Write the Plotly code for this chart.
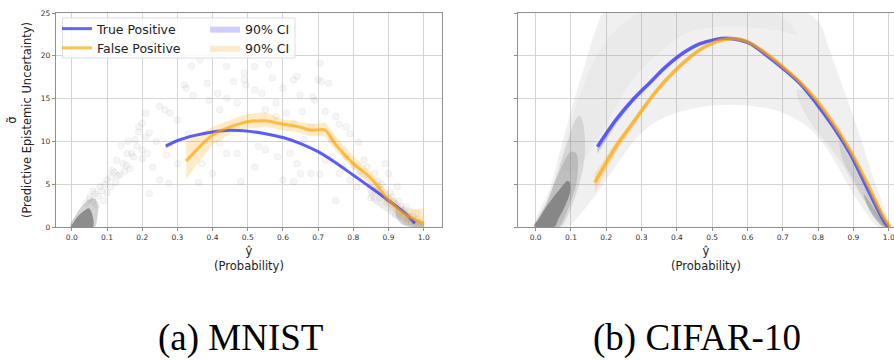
import plotly.graph_objects as go

# ---------------- MNIST (a) ----------------
mn_tp_x = [0.267, 0.30, 0.35, 0.40, 0.45, 0.50, 0.55, 0.60, 0.65, 0.70, 0.75, 0.80, 0.85, 0.90, 0.95, 0.975]
mn_tp_y = [9.45, 10.1, 10.7, 11.1, 11.3, 11.2, 10.9, 10.45, 9.75, 8.8, 7.5, 6.05, 4.6, 3.1, 1.5, 0.45]
mn_tp_lo = [9.2, 9.9, 10.55, 10.95, 11.15, 11.05, 10.75, 10.3, 9.6, 8.65, 7.35, 5.9, 4.45, 2.95, 1.35, 0.3]
mn_tp_hi = [9.7, 10.3, 10.85, 11.25, 11.45, 11.35, 11.05, 10.6, 9.9, 8.95, 7.65, 6.2, 4.75, 3.25, 1.65, 0.6]

mn_fp_x = [0.325, 0.35, 0.40, 0.45, 0.50, 0.55, 0.60, 0.62, 0.65, 0.68, 0.70, 0.72, 0.75, 0.80, 0.85, 0.90, 0.95, 1.00]
mn_fp_y = [7.7, 8.8, 10.75, 11.7, 12.3, 12.4, 12.0, 11.9, 11.65, 11.3, 11.35, 11.3, 9.6, 7.4, 5.7, 3.15, 1.4, 0.45]
mn_fp_lo = [5.6, 7.0, 9.6, 10.9, 11.5, 11.7, 11.3, 11.2, 10.95, 10.6, 10.7, 10.5, 8.9, 6.8, 5.0, 2.4, 0.6, 0.0]
mn_fp_hi = [10.0, 10.5, 11.7, 12.5, 13.2, 13.4, 12.6, 12.5, 12.3, 12.0, 12.1, 12.2, 10.6, 8.3, 6.4, 3.9, 2.0, 2.2]

mn_pts_x = [0.364, 0.34, 0.32, 0.325, 0.25, 0.265, 0.28, 0.39, 0.42, 0.46, 0.49, 0.495, 0.54, 0.55, 0.57,
            0.61, 0.63, 0.655, 0.69, 0.685, 0.70, 0.648, 0.75, 0.79, 0.815, 0.72, 0.74, 0.705, 0.76, 0.78,
            0.62, 0.64, 0.585, 0.55, 0.53, 0.47, 0.48, 0.44, 0.40, 0.37, 0.30, 0.27, 0.25, 0.275, 0.23,
            0.21, 0.20, 0.215, 0.19, 0.19, 0.21, 0.157, 0.175, 0.146, 0.127, 0.114, 0.137, 0.10, 0.08, 0.066,
            0.09, 0.052, 0.11, 0.125, 0.22, 0.83, 0.84, 0.86, 0.87, 0.89, 0.91, 0.92, 0.94, 0.75, 0.81,
            0.79, 0.89, 0.90, 0.925, 0.78, 0.74, 0.345, 0.385, 0.415, 0.44, 0.49, 0.52, 0.64, 0.705, 0.58,
            0.63, 0.68, 0.52, 0.60, 0.63, 0.68, 0.65, 0.36, 0.42, 0.33, 0.30, 0.47, 0.56, 0.40, 0.60,
            0.52, 0.44, 0.58, 0.66, 0.72, 0.76, 0.73, 0.71, 0.16, 0.14, 0.18, 0.20, 0.22, 0.24,
            0.04, 0.05, 0.06, 0.07, 0.06, 0.075, 0.085, 0.10, 0.095, 0.11, 0.12, 0.13, 0.15, 0.155, 0.165,
            0.17, 0.185, 0.20, 0.96, 0.97, 0.95, 0.93, 0.88, 0.85, 0.82, 0.80, 0.77,
            0.86, 0.875, 0.88, 0.895, 0.90, 0.91, 0.915, 0.93, 0.935, 0.94, 0.945, 0.955, 0.96, 0.965,
            0.97, 0.975, 0.98, 0.985, 0.99, 0.995, 0.85, 0.87, 0.905, 0.92, 0.95, 0.98, 0.83, 0.815]
mn_pts_y = [19.5, 18.8, 16.6, 16.2, 14.1, 13.7, 13.3, 14.8, 13.7, 17.0, 17.2, 16.6, 15.6, 13.7, 17.4,
            13.3, 17.2, 13.5, 14.8, 15.2, 17.2, 15.4, 12.9, 10.9, 9.9, 7.8, 8.2, 6.2, 6.25, 8.2,
            8.6, 7.4, 8.2, 9.0, 9.4, 8.6, 5.3, 8.6, 6.25, 7.4, 7.4, 8.4, 5.5, 5.1, 7.0,
            10.5, 9.0, 8.6, 11.1, 11.7, 13.3, 8.6, 8.2, 7.4, 7.8, 6.6, 6.1, 5.5, 4.7, 3.9,
            3.1, 3.5, 4.7, 5.2, 3.9, 7.8, 7.0, 6.25, 4.7, 3.9, 3.5, 2.7, 1.9, 3.1, 4.7,
            5.5, 7.4, 6.25, 4.7, 11.7, 10.2, 15.4, 16.8, 15.6, 18.75, 18.0, 18.75, 17.6, 19.1, 12.9,
            12.1, 11.7, 7.0, 5.5, 5.3, 6.25, 6.25, 5.2, 9.8, 10.9, 12.5, 14.5, 19.0, 20.5, 16.2,
            16.0, 15.0, 14.5, 10.2, 13.5, 12.0, 16.8, 17.0, 10.0, 9.5, 10.2, 12.1, 11.0, 10.0,
            2.8, 3.2, 3.0, 2.6, 4.2, 3.6, 4.2, 4.0, 5.0, 5.8, 6.4, 6.0, 6.5, 7.2, 6.8,
            8.6, 9.4, 8.0, 1.2, 0.8, 2.4, 3.0, 5.0, 5.2, 6.5, 7.2, 7.0,
            4.2, 3.4, 4.4, 2.8, 3.2, 2.2, 3.0, 1.6, 2.4, 1.2, 2.0, 1.0, 1.8, 0.6,
            1.2, 0.4, 0.9, 0.3, 0.6, 0.2, 3.4, 5.4, 4.0, 1.4, 0.5, 1.6, 5.6, 6.0]

# dense regions of the MNIST cloud (outlines)
mn_halo_x = [-0.004, 0.01, 0.03, 0.05, 0.065, 0.075, 0.072, 0.065, -0.004]
mn_halo_y = [0.0, 1.3, 2.5, 3.2, 3.3, 2.4, 1.0, 0.0, 0.0]
mn_blob_x = [-0.002, 0.006, 0.014, 0.026, 0.038, 0.048, 0.055, 0.06, 0.062, 0.06, -0.002]
mn_blob_y = [0.0, 0.6, 1.1, 1.6, 2.0, 2.2, 1.8, 1.1, 0.4, 0.0, 0.0]
mn_right_x = [0.84, 0.88, 0.92, 0.95, 0.98, 1.0, 1.0, 0.97, 0.93, 0.89, 0.85, 0.84]
mn_right_y = [5.2, 4.0, 2.8, 1.9, 1.0, 0.4, 0.0, 0.0, 0.8, 1.9, 3.2, 5.2]
mn_rdense_x = [0.92, 0.95, 0.98, 1.0, 1.0, 0.96, 0.93, 0.92]
mn_rdense_y = [2.2, 1.5, 0.8, 0.3, 0.0, 0.0, 0.6, 2.2]

# ---------------- CIFAR-10 (b) ----------------
cf_tp_x = [0.175, 0.227, 0.2745, 0.322, 0.369, 0.4166, 0.464, 0.511, 0.54, 0.578, 0.606, 0.653, 0.70,
           0.748, 0.795, 0.843, 0.89, 0.937, 0.985, 0.999]
cf_tp_y = [9.38, 12.5, 14.84, 16.8, 18.73, 20.29, 21.38, 21.92, 22.04, 21.85, 21.46, 20.09, 18.54,
           16.78, 14.45, 11.72, 8.6, 4.71, 0.82, 0.0]
cf_tp_lo = [8.6, 12.0, 14.5, 16.55, 18.5, 20.1, 21.2, 21.75, 21.88, 21.7, 21.3, 19.93, 18.38,
            16.62, 14.29, 11.56, 8.44, 4.55, 0.66, 0.0]
cf_tp_hi = [9.7, 12.8, 15.1, 17.0, 18.93, 20.47, 21.55, 22.08, 22.2, 22.0, 21.62, 20.25, 18.7,
            16.94, 14.61, 11.88, 8.76, 4.87, 0.98, 0.15]

cf_fp_x = [0.1675, 0.1988, 0.227, 0.2745, 0.322, 0.369, 0.4166, 0.464, 0.511, 0.549, 0.578, 0.606,
           0.653, 0.70, 0.748, 0.795, 0.843, 0.89, 0.937, 0.985, 1.004]
cf_fp_y = [5.18, 7.44, 9.38, 12.11, 14.84, 17.17, 19.12, 20.68, 21.65, 22.0, 21.93, 21.53,
           20.29, 18.73, 16.98, 14.84, 12.11, 9.0, 5.3, 1.21, 0.0]
cf_fp_lo = [4.0, 6.5, 8.7, 11.6, 14.45, 16.85, 18.85, 20.45, 21.45, 21.8, 21.73, 21.33,
            20.09, 18.53, 16.78, 14.64, 11.91, 8.8, 5.1, 1.0, 0.0]
cf_fp_hi = [6.2, 8.2, 9.9, 12.5, 15.15, 17.45, 19.35, 20.88, 21.85, 22.2, 22.13, 21.73,
            20.49, 18.93, 17.18, 15.04, 12.31, 9.2, 5.5, 1.45, 0.2]

# CIFAR point cloud, drawn as nested density layers (outlines)
cf_haze_x = [0.0, 0.04, 0.07, 0.09, 0.11, 0.14, 0.17, 0.20, 0.30, 0.45, 0.60, 0.72, 0.80, 0.83, 0.86, 0.89,
             0.92, 0.95, 0.98, 1.0, 0.97, 0.93, 0.89, 0.85, 0.81, 0.76, 0.69, 0.60, 0.50, 0.42, 0.35,
             0.30, 0.25, 0.20, 0.16, 0.12, 0.09, 0.0]
cf_haze_y = [0.0, 4.5, 9.0, 12.0, 15.0, 19.0, 23.0, 25.5, 26.0, 26.0, 26.0, 26.0, 24.0, 21.0, 17.5, 14.0,
             10.5, 6.5, 3.0, 0.0, 0.0, 2.0, 4.5, 7.5, 10.0, 12.0, 13.5, 14.2, 14.2, 13.6, 12.5,
             11.0, 8.5, 5.5, 3.2, 1.2, 0.0, 0.0]
cf_mid_x = [0.07, 0.09, 0.11, 0.14, 0.18, 0.24, 0.32, 0.42, 0.52, 0.62, 0.70, 0.74, 0.70, 0.60, 0.50,
            0.42, 0.34, 0.27, 0.22, 0.18, 0.14, 0.11, 0.07]
cf_mid_y = [7.0, 10.5, 13.5, 17.0, 20.5, 23.5, 25.5, 26.0, 26.0, 25.5, 24.5, 22.5, 22.8, 23.4, 23.3,
            22.5, 20.0, 17.0, 13.5, 10.5, 8.0, 6.5, 7.0]
cf_lobe_x = [0.0, 0.03, 0.055, 0.075, 0.095, 0.11, 0.125, 0.135, 0.14, 0.135, 0.12, 0.10, 0.085, 0.07, 0.0]
cf_lobe_y = [0.0, 2.5, 5.5, 8.0, 10.5, 12.3, 13.0, 12.0, 9.5, 7.0, 4.5, 2.2, 0.8, 0.0, 0.0]
cf_core_x = [0.0, 0.03, 0.055, 0.08, 0.10, 0.115, 0.12, 0.115, 0.10, 0.085, 0.065, 0.0]
cf_core_y = [0.0, 2.8, 5.3, 7.6, 8.8, 8.6, 7.0, 5.0, 3.0, 1.4, 0.0, 0.0]
cf_blob_x = [-0.004, 0.01, 0.024, 0.038, 0.052, 0.066, 0.08, 0.09, 0.097, 0.098, 0.09, 0.078, 0.065, 0.052, -0.004]
cf_blob_y = [0.1, 1.0, 2.0, 2.8, 3.6, 4.3, 5.0, 5.4, 5.2, 4.2, 3.1, 2.0, 1.0, 0.0, 0.1]
cf_right_x = [0.74, 0.78, 0.82, 0.86, 0.89, 0.92, 0.95, 0.98, 1.0, 0.985, 0.96, 0.93, 0.90, 0.87, 0.84,
              0.80, 0.76, 0.74]
cf_right_y = [16.0, 15.5, 13.5, 10.8, 8.5, 6.0, 3.5, 1.2, 0.0, 0.0, 1.2, 3.0, 5.0, 7.2, 9.0, 11.0, 13.5, 16.0]
cf_rdense_x = [0.86, 0.89, 0.92, 0.95, 0.975, 1.0, 0.99, 0.97, 0.95, 0.925, 0.90, 0.87, 0.86]
cf_rdense_y = [10.0, 8.0, 5.6, 3.4, 1.6, 0.0, 0.0, 0.8, 2.0, 3.6, 5.5, 7.8, 10.0]
cf_rcore_x = [0.93, 0.955, 0.975, 0.995, 1.0, 0.985, 0.965, 0.945, 0.93]
cf_rcore_y = [3.8, 2.4, 1.2, 0.2, 0.0, 0.0, 0.8, 2.0, 3.8]

x_ticks = [0.0, 0.1, 0.2, 0.3, 0.4, 0.5, 0.6, 0.7, 0.8, 0.9, 1.0]
x_tick_labels = ["0.0", "0.1", "0.2", "0.3", "0.4", "0.5", "0.6", "0.7", "0.8", "0.9", "1.0"]
y_ticks = [0, 5, 10, 15, 20, 25]
captions = ["(a) MNIST", "(b) CIFAR-10"]

BLUE_LINE = "rgba(60,60,245,0.78)"
ORANGE_LINE = "rgba(255,165,0,0.68)"
BLUE_CI = "rgba(60,60,255,0.25)"
ORANGE_CI = "rgba(255,165,0,0.22)"


def grey(a):
    return "rgba(128,128,128,%s)" % a


fig = go.Figure()


def region(xs, ys, alpha, xa, ya):
    fig.add_trace(go.Scatter(x=xs, y=ys, mode="lines", fill="toself", fillcolor=grey(alpha),
                             line=dict(width=0, shape="spline", smoothing=1.0), hoverinfo="skip",
                             showlegend=False, xaxis=xa, yaxis=ya))


# --- MNIST cloud ---
region(mn_right_x, mn_right_y, 0.16, "x", "y")
region(mn_rdense_x, mn_rdense_y, 0.3, "x", "y")
fig.add_trace(go.Scatter(x=mn_pts_x, y=mn_pts_y, mode="markers", showlegend=False, hoverinfo="skip",
                         marker=dict(size=6.5, color=grey(0.07), line=dict(color=grey(0.09), width=1)),
                         xaxis="x", yaxis="y"))
region(mn_halo_x, mn_halo_y, 0.35, "x", "y")
region(mn_blob_x, mn_blob_y, 0.85, "x", "y")

# --- CIFAR cloud ---
region(cf_haze_x, cf_haze_y, 0.12, "x2", "y2")
region(cf_mid_x, cf_mid_y, 0.05, "x2", "y2")
region(cf_right_x, cf_right_y, 0.1, "x2", "y2")
region(cf_rdense_x, cf_rdense_y, 0.2, "x2", "y2")
region(cf_rcore_x, cf_rcore_y, 0.4, "x2", "y2")
region(cf_lobe_x, cf_lobe_y, 0.2, "x2", "y2")
region(cf_core_x, cf_core_y, 0.3, "x2", "y2")
region(cf_blob_x, cf_blob_y, 0.88, "x2", "y2")


def band(xs, lo, hi, color, xa, ya, name=None, legend=None):
    fig.add_trace(go.Scatter(x=xs + xs[::-1], y=hi + lo[::-1], mode="lines", fill="toself",
                             fillcolor=color, line=dict(width=0), hoverinfo="skip",
                             name=name, showlegend=name is not None, legend=legend,
                             xaxis=xa, yaxis=ya))


band(mn_tp_x, mn_tp_lo, mn_tp_hi, BLUE_CI, "x", "y", "90% CI", "legend2")
band(mn_fp_x, mn_fp_lo, mn_fp_hi, ORANGE_CI, "x", "y", "90% CI", "legend2")
band(cf_tp_x, cf_tp_lo, cf_tp_hi, BLUE_CI, "x2", "y2")
band(cf_fp_x, cf_fp_lo, cf_fp_hi, ORANGE_CI, "x2", "y2")

fig.add_trace(go.Scatter(x=mn_tp_x, y=mn_tp_y, mode="lines", name="True Positive", legend="legend",
                         line=dict(color=BLUE_LINE, width=3, shape="spline"), xaxis="x", yaxis="y"))
fig.add_trace(go.Scatter(x=mn_fp_x, y=mn_fp_y, mode="lines", name="False Positive", legend="legend",
                         line=dict(color=ORANGE_LINE, width=3, shape="spline"), xaxis="x", yaxis="y"))
fig.add_trace(go.Scatter(x=cf_tp_x, y=cf_tp_y, mode="lines", showlegend=False,
                         line=dict(color=BLUE_LINE, width=3.5, shape="spline"), xaxis="x2", yaxis="y2"))
fig.add_trace(go.Scatter(x=cf_fp_x, y=cf_fp_y, mode="lines", showlegend=False,
                         line=dict(color=ORANGE_LINE, width=3.5, shape="spline"), xaxis="x2", yaxis="y2"))

W, H = 894, 361
SPINE = "#8f8f8f"
GRID = "#d4d4d4"
TICKFONT = dict(family="DejaVu Sans", size=7.5, color="#333333")
TITLEFONT = dict(family="DejaVu Sans", size=11.5, color="#222222")
LEGFONT = dict(family="DejaVu Sans", size=12.5, color="#222222")
ydom = [(H - 227) / H, (H - 13) / H]

common_x = dict(tickvals=x_ticks, ticktext=x_tick_labels, showgrid=True, gridcolor=GRID, gridwidth=1,
                showline=True, linecolor=SPINE, linewidth=1.3, ticks="outside", ticklen=3,
                tickcolor=SPINE, tickfont=TICKFONT, zeroline=False, automargin=False,
                ticklabeloverflow="allow")
common_y = dict(tickvals=y_ticks, range=[0, 25], showgrid=True, gridcolor=GRID, gridwidth=1,
                showline=True, linecolor=SPINE, linewidth=1.3, ticks="outside", ticklen=3,
                tickcolor=SPINE, tickfont=TICKFONT, zeroline=False, domain=ydom, automargin=False)

fig.update_layout(
    width=W, height=H, margin=dict(l=0, r=0, t=0, b=0, autoexpand=False),
    paper_bgcolor="white", plot_bgcolor="white",
    xaxis=dict(common_x, domain=[56 / W, 442 / W], range=[-0.045, 1.052], mirror=True, anchor="y",
               title=dict(text="ŷ<br>(Probability)", font=TITLEFONT, standoff=5)),
    yaxis=dict(common_y, mirror=True, anchor="x",
               title=dict(text="σ̃<br>(Predictive Epistemic Uncertainty)", font=TITLEFONT, standoff=6)),
    xaxis2=dict(common_x, domain=[518 / W, 1.0], range=[-0.05, 1.015], mirror=True, anchor="y2",
                title=dict(text="ŷ<br>(Probability)", font=TITLEFONT, standoff=5)),
    yaxis2=dict(common_y, showticklabels=False, mirror=False, anchor="x2"),
    legend=dict(x=57 / W, y=(H - 14) / H, xanchor="left", yanchor="top", bgcolor="rgba(0,0,0,0)",
                font=LEGFONT, itemwidth=30, tracegroupgap=0, borderwidth=0),
    legend2=dict(x=205 / W, y=(H - 14) / H, xanchor="left", yanchor="top", bgcolor="rgba(0,0,0,0)",
                 font=LEGFONT, itemwidth=30, tracegroupgap=0, borderwidth=0),
    shapes=[dict(type="rect", xref="paper", yref="paper", x0=62.5 / W, x1=295 / W,
                 y0=(H - 58) / H, y1=(H - 18) / H, fillcolor="rgba(255,255,255,0.85)",
                 line=dict(color="#dddddd", width=1), layer="above")],
    annotations=[
        dict(text=captions[0], x=240 / W, y=(H - 338) / H, xref="paper", yref="paper", showarrow=False,
             xanchor="center", yanchor="middle", font=dict(family="Liberation Serif", size=37, color="black")),
        dict(text=captions[1], x=697 / W, y=(H - 338) / H, xref="paper", yref="paper", showarrow=False,
             xanchor="center", yanchor="middle", font=dict(family="Liberation Serif", size=37, color="black")),
    ],
)

fig.write_html("out.html", config={"displayModeBar": False},
               post_script="document.body.style.margin='0';document.body.style.overflow='hidden';")
